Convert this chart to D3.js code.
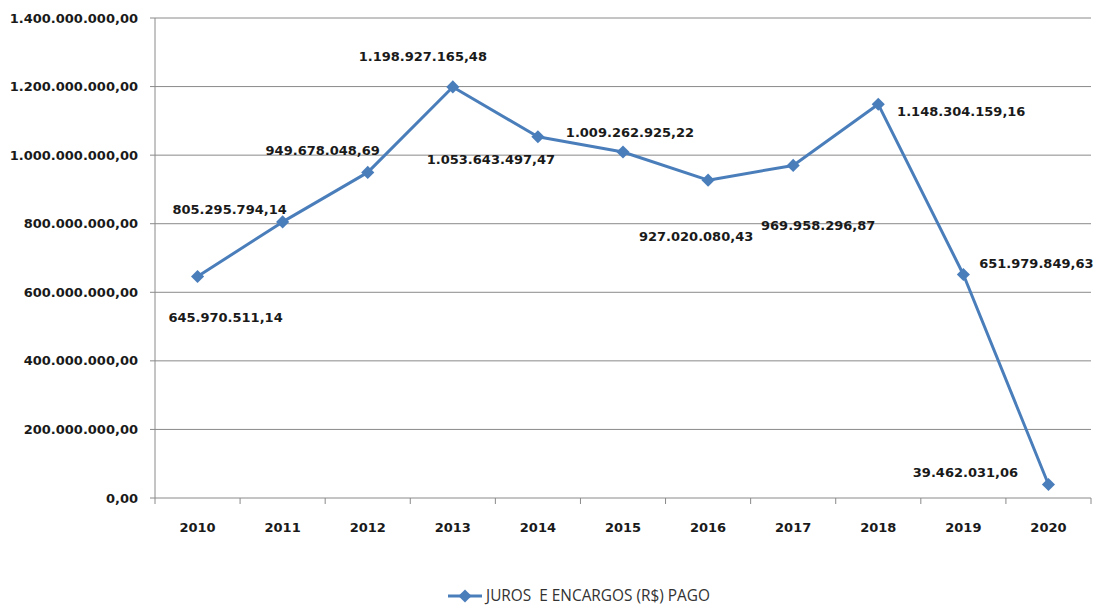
<!DOCTYPE html>
<html>
<head>
<meta charset="utf-8">
<script src="https://cdn.jsdelivr.net/npm/d3@7"></script>
<style>
  body { margin: 0; background: #fff; }
  text { font-family: "DejaVu Sans", sans-serif; }
</style>
</head>
<body>
<div id="wrapper"></div>
<script>
// data
const years = ["2010", "2011", "2012", "2013", "2014", "2015", "2016", "2017", "2018", "2019", "2020"];
const pago = [645970511.14, 805295794.14, 949678048.69, 1198927165.48, 1053643497.47,
  1009262925.22, 927020080.43, 969958296.87, 1148304159.16, 651979849.63, 39462031.06];
const yTicks = [0, 200000000, 400000000, 600000000, 800000000, 1000000000, 1200000000, 1400000000];
const seriesName = "JUROS  E ENCARGOS (R$) PAGO";
// label offsets from the point (px)
const labelOffset = [[28, 41], [-53, -12], [-45, -22], [-30, -30], [-47, 23], [7, -20],
  [-12, 56], [25, 60], [83, 7], [73, -11], [-83, -12]];

const fmt = (v) => {
  const [i, d] = v.toFixed(2).split(".");
  return i.replace(/\B(?=(\d{3})+(?!\d))/g, ".") + "," + d;
};

const dimensions = {
  width: 1099,
  height: 607,
  margin: { top: 18, right: 8, bottom: 109, left: 155 },
};
dimensions.boundedWidth = dimensions.width - dimensions.margin.left - dimensions.margin.right;
dimensions.boundedHeight = dimensions.height - dimensions.margin.top - dimensions.margin.bottom;

const svg = d3.select("#wrapper").append("svg")
  .attr("width", dimensions.width)
  .attr("height", dimensions.height);

const bounds = svg.append("g")
  .attr("transform", `translate(${dimensions.margin.left},${dimensions.margin.top})`);

const xScale = d3.scaleBand().domain(years).range([0, dimensions.boundedWidth]);
const yScale = d3.scaleLinear().domain([0, 1400000000]).range([dimensions.boundedHeight, 0]);

// gridlines
bounds.append("g").selectAll("line").data(yTicks).join("line")
  .attr("x1", -5).attr("x2", dimensions.boundedWidth)
  .attr("y1", (d) => yScale(d)).attr("y2", (d) => yScale(d))
  .attr("stroke", "#8a8a8a").attr("stroke-width", 1);

// y axis line
bounds.append("line")
  .attr("x1", 0).attr("x2", 0).attr("y1", 0).attr("y2", dimensions.boundedHeight)
  .attr("stroke", "#8a8a8a");

// y labels
bounds.append("g").selectAll("text").data(yTicks).join("text")
  .attr("x", -17).attr("y", (d) => yScale(d)).attr("dy", "0.35em")
  .attr("text-anchor", "end")
  .style("font-size", "13px").style("font-weight", "bold").style("fill", "#1a1a1a")
  .text((d) => fmt(d));

// x ticks at band boundaries
const bandEdges = years.map((y) => xScale(y)).concat([dimensions.boundedWidth]);
bounds.append("g").selectAll("line").data(bandEdges).join("line")
  .attr("x1", (d) => d).attr("x2", (d) => d)
  .attr("y1", dimensions.boundedHeight).attr("y2", dimensions.boundedHeight + 6)
  .attr("stroke", "#8a8a8a");

bounds.append("g").selectAll("text").data(years).join("text")
  .attr("x", (d) => xScale(d) + xScale.bandwidth() / 2)
  .attr("y", dimensions.boundedHeight + 29).attr("dy", "0.35em")
  .attr("text-anchor", "middle")
  .style("font-size", "13px").style("font-weight", "bold").style("fill", "#1a1a1a")
  .text((d) => d);

// line
const color = "#4a7ebb";
const xPos = (i) => xScale(years[i]) + xScale.bandwidth() / 2;
const line = d3.line().x((d, i) => xPos(i)).y((d) => yScale(d));
bounds.append("path").attr("d", line(pago))
  .attr("fill", "none").attr("stroke", color).attr("stroke-width", 3)
  .attr("stroke-linejoin", "round");

const diamond = d3.symbol().type(d3.symbolDiamond2).size(110);
bounds.append("g").selectAll("path").data(pago).join("path")
  .attr("d", diamond)
  .attr("transform", (d, i) => `translate(${xPos(i)},${yScale(d)})`)
  .attr("fill", color);

// data labels
bounds.append("g").selectAll("text").data(pago).join("text")
  .attr("x", (d, i) => xPos(i) + labelOffset[i][0])
  .attr("y", (d, i) => yScale(d) + labelOffset[i][1]).attr("dy", "0.35em")
  .attr("text-anchor", "middle")
  .style("font-size", "13px").style("font-weight", "bold").style("fill", "#1a1a1a")
  .text((d) => fmt(d));

// legend
const legend = svg.append("g").attr("transform", "translate(448,596)");
legend.append("line").attr("x1", 0).attr("x2", 34).attr("stroke", color).attr("stroke-width", 3);
legend.append("path").attr("d", diamond).attr("transform", "translate(17,0)").attr("fill", color);
legend.append("text").attr("x", 38).attr("dy", "0.35em")
  .style("font-family", "'Open Sans', sans-serif")
  .style("font-size", "15.4px").style("fill", "#333")
  .style("white-space", "pre")
  .text(seriesName);
</script>
</body>
</html>
